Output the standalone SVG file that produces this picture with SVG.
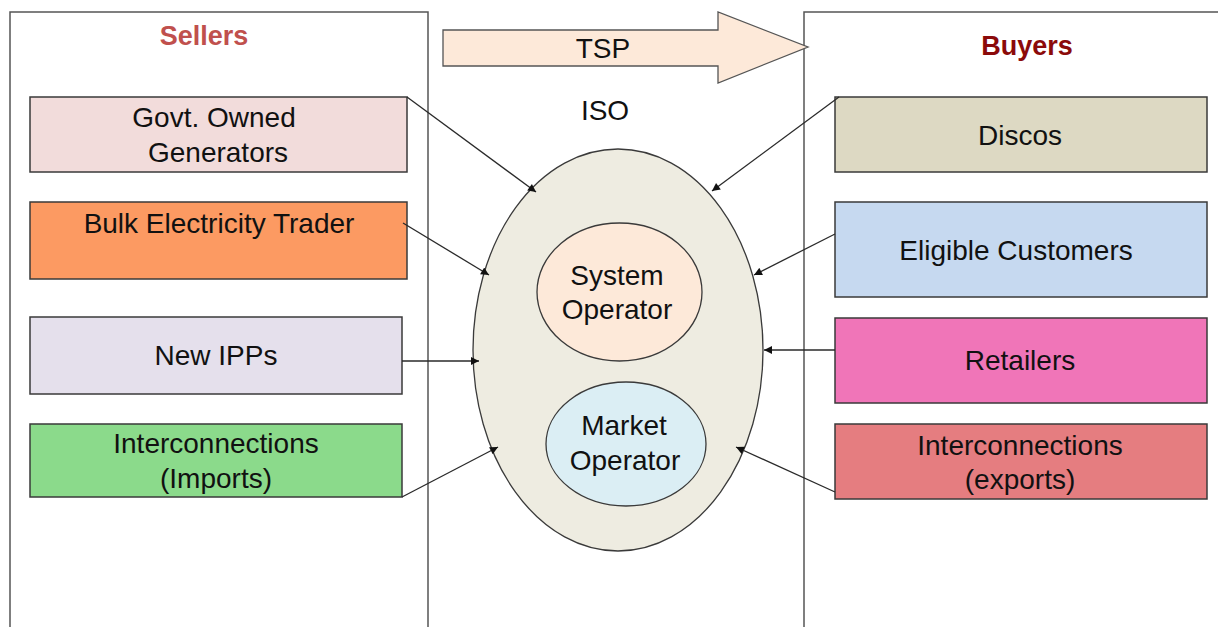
<svg xmlns="http://www.w3.org/2000/svg" width="1218" height="627" viewBox="0 0 1218 627">
  <style>
    .panel { fill: #ffffff; stroke: #555555; stroke-width: 1.5; }
    .box { stroke: #3a3a3a; stroke-width: 1.5; }
    .lbl { font-family: "Liberation Sans", Arial, sans-serif; font-size: 28px; fill: #111111; text-anchor: middle; }
    .title { font-family: "Liberation Sans", Arial, sans-serif; font-size: 27px; font-weight: bold; text-anchor: middle; }
    .conn { stroke: #2a2a2a; stroke-width: 1.3; fill: none; marker-end: url(#arrow); }
    .oval { stroke: #3a3a3a; stroke-width: 1.3; }
  </style>
  <defs>
    <marker id="arrow" viewBox="0 0 10 10" refX="10" refY="5" markerWidth="10" markerHeight="8" markerUnits="userSpaceOnUse" orient="auto">
      <path d="M0,0 L10,5 L0,10 z" fill="#111111"/>
    </marker>
  </defs>
  <rect width="1218" height="627" fill="#ffffff"/>

  <!-- side panels -->
  <g id="sellers-panel">
    <path class="panel" d="M10,640 L10,12 L428,12 L428,640"/>
    <text class="title" x="204" y="45" fill="#C0504D">Sellers</text>
  </g>
  <g id="buyers-panel">
    <path class="panel" d="M804,640 L804,12 L1230,12"/>
    <text class="title" x="1027" y="55" fill="#8B0A0A">Buyers</text>
  </g>

  <!-- transmission service provider arrow -->
  <g id="tsp">
    <path d="M443,30 L718,30 L718,12 L808,47 L718,83 L718,66 L443,66 z" fill="#FDE9D9" stroke="#555555" stroke-width="1.3"/>
    <text class="lbl" x="603" y="58">TSP</text>
  </g>

  <!-- independent system operator -->
  <g id="iso">
    <text class="lbl" x="605" y="120">ISO</text>
    <ellipse class="oval" cx="618" cy="350" rx="145" ry="201" fill="#EEECE1"/>
  </g>
  <g id="system-operator">
    <ellipse class="oval" cx="619.5" cy="292" rx="82.5" ry="69" fill="#FDE9D9"/>
    <text class="lbl" x="617" y="285">System</text>
    <text class="lbl" x="617" y="319">Operator</text>
  </g>
  <g id="market-operator">
    <ellipse class="oval" cx="626" cy="444" rx="80" ry="62" fill="#DBEEF4"/>
    <text class="lbl" x="624" y="435">Market</text>
    <text class="lbl" x="625" y="470">Operator</text>
  </g>

  <!-- sellers -->
  <g id="govt-generators">
    <rect class="box" x="30" y="97" width="377" height="75" fill="#F2DCDB"/>
    <text class="lbl" x="214" y="127">Govt. Owned</text>
    <text class="lbl" x="218" y="162">Generators</text>
  </g>
  <g id="bulk-trader">
    <rect class="box" x="30" y="202" width="377" height="77" fill="#FC9A62"/>
    <text class="lbl" x="219" y="233">Bulk Electricity Trader</text>
  </g>
  <g id="new-ipps">
    <rect class="box" x="30" y="317" width="372" height="77" fill="#E5E0EC"/>
    <text class="lbl" x="216" y="365">New IPPs</text>
  </g>
  <g id="imports">
    <rect class="box" x="30" y="424" width="372" height="73" fill="#8BDA8B"/>
    <text class="lbl" x="216" y="453">Interconnections</text>
    <text class="lbl" x="216" y="488">(Imports)</text>
  </g>

  <!-- buyers -->
  <g id="discos">
    <rect class="box" x="835" y="97" width="372" height="75" fill="#DDD9C3"/>
    <text class="lbl" x="1020" y="145">Discos</text>
  </g>
  <g id="eligible-customers">
    <rect class="box" x="835" y="202" width="372" height="95" fill="#C6D9F0"/>
    <text class="lbl" x="1016" y="260">Eligible Customers</text>
  </g>
  <g id="retailers">
    <rect class="box" x="835" y="318" width="372" height="85" fill="#F075B8"/>
    <text class="lbl" x="1020" y="370">Retailers</text>
  </g>
  <g id="exports">
    <rect class="box" x="835" y="424" width="372" height="75" fill="#E57D80"/>
    <text class="lbl" x="1020" y="455">Interconnections</text>
    <text class="lbl" x="1020" y="489">(exports)</text>
  </g>

  <!-- connectors into the ISO -->
  <g id="connectors">
    <line class="conn" x1="407" y1="97" x2="536" y2="192"/>
    <line class="conn" x1="403" y1="223" x2="489" y2="275"/>
    <line class="conn" x1="402" y1="361" x2="479" y2="361"/>
    <line class="conn" x1="402" y1="497" x2="498" y2="447"/>
    <line class="conn" x1="839" y1="97" x2="712" y2="191"/>
    <line class="conn" x1="835" y1="234" x2="754" y2="275"/>
    <line class="conn" x1="835" y1="350" x2="764" y2="350"/>
    <line class="conn" x1="835" y1="492" x2="736" y2="447"/>
  </g>
</svg>
